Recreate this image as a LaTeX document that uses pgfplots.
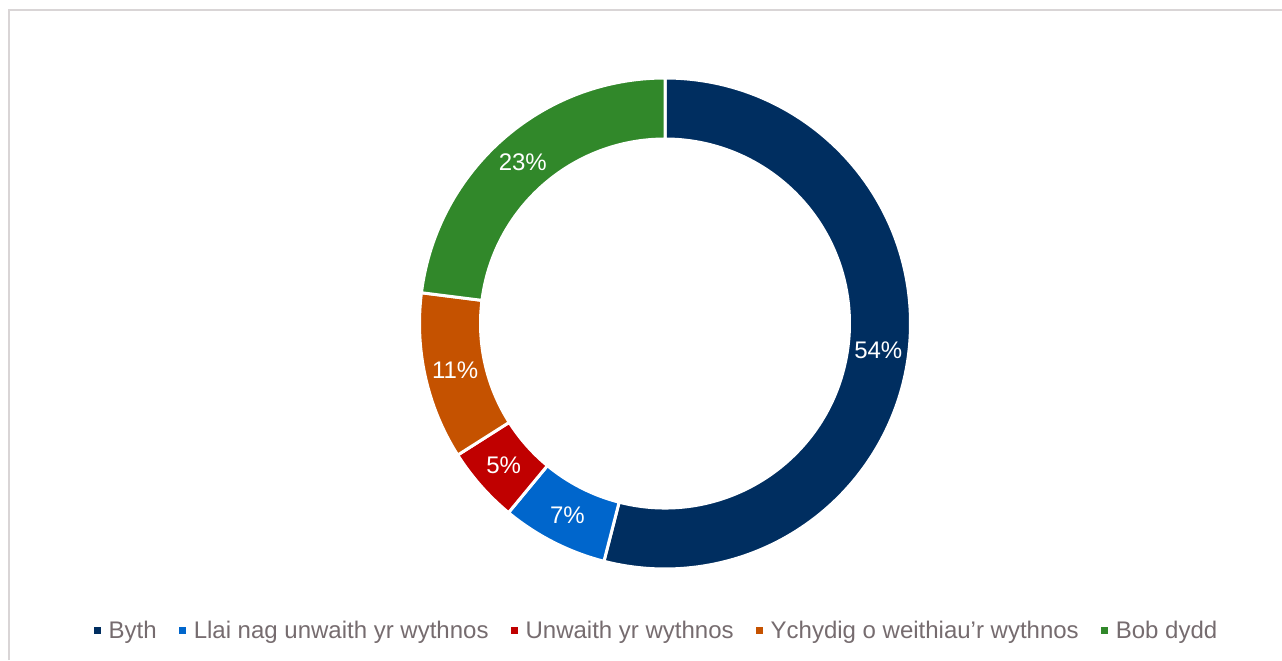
\documentclass[border=0pt]{standalone}
\usepackage{pgfplots}
\usepackage{pgfplotstable}
\usepackage{fontspec}
\setmainfont{Liberation Sans}
\pgfplotsset{compat=1.18}

\definecolor{cByth}{RGB}{0,46,96}
\definecolor{cLlai}{RGB}{0,102,204}
\definecolor{cUnwaith}{RGB}{192,0,0}
\definecolor{cYchydig}{RGB}{197,82,0}
\definecolor{cBob}{RGB}{49,136,42}
\definecolor{legtext}{RGB}{118,108,111}
\definecolor{framecol}{RGB}{217,213,214}

% share of answers, in %
\pgfplotstableread{
value
54
7
5
11
23
}\donutdata

\begin{document}
\begin{tikzpicture}
\useasboundingbox[fill=white] (0pt,0pt) rectangle (641pt,330pt);
\draw[framecol, line width=1pt] (4.25pt,0pt) |- (641pt,324.75pt);

\begin{axis}[
    at={(332.5pt,168.25pt)}, anchor=center,
    scale only axis, width=244pt, height=244pt,
    xmin=-1, xmax=1, ymin=-1, ymax=1,
    hide axis,
    legend columns=5,
    legend style={at={(0.4846,-0.130)}, anchor=center, draw=none, fill=none,
        font=\fontsize{12}{14}\selectfont,
        text=legtext,
        /tikz/every even column/.append style={column sep=9pt},
        inner sep=0pt},
]
\addlegendimage{legend image code/.code={\path[draw=none,fill=none] (0pt,0pt) rectangle (5.5pt,0pt);\fill[cByth,draw=none] (0pt,-1.75pt) rectangle (3.5pt,1.75pt);}}
\addlegendentry{Byth}
\addlegendimage{legend image code/.code={\path[draw=none,fill=none] (0pt,0pt) rectangle (5.5pt,0pt);\fill[cLlai,draw=none] (0pt,-1.75pt) rectangle (3.5pt,1.75pt);}}
\addlegendentry{Llai nag unwaith yr wythnos}
\addlegendimage{legend image code/.code={\path[draw=none,fill=none] (0pt,0pt) rectangle (5.5pt,0pt);\fill[cUnwaith,draw=none] (0pt,-1.75pt) rectangle (3.5pt,1.75pt);}}
\addlegendentry{Unwaith yr wythnos}
\addlegendimage{legend image code/.code={\path[draw=none,fill=none] (0pt,0pt) rectangle (5.5pt,0pt);\fill[cYchydig,draw=none] (0pt,-1.75pt) rectangle (3.5pt,1.75pt);}}
\addlegendentry{Ychydig o weithiau’r wythnos}
\addlegendimage{legend image code/.code={\path[draw=none,fill=none] (0pt,0pt) rectangle (5.5pt,0pt);\fill[cBob,draw=none] (0pt,-1.75pt) rectangle (3.5pt,1.75pt);}}
\addlegendentry{Bob dydd}

\pgfplotsextra{
  \gdef\cum{0}
  \foreach \i/\c in {0/cByth,1/cLlai,2/cUnwaith,3/cYchydig,4/cBob}{
    \pgfplotstablegetelem{\i}{value}\of\donutdata
    \pgfmathsetmacro\v{\pgfplotsretval}
    \pgfmathsetmacro\aone{90-3.6*\cum}
    \pgfmathsetmacro\atwo{90-3.6*(\cum+\v)}
    \pgfmathsetmacro\amid{(\aone+\atwo)/2}
    \begin{scope}[shift={(axis cs:0,0)}]
    \fill[\c, draw=white, line width=1.5pt]
      (\aone:122.75pt) arc[start angle=\aone, end angle=\atwo, radius=122.75pt]
      -- (\atwo:92.25pt) arc[start angle=\atwo, end angle=\aone, radius=92.25pt] -- cycle;
    \node[white, font=\fontsize{12}{14}\selectfont] at (\amid:107.5pt)
      {\pgfmathprintnumber[fixed,precision=0,assume math mode=true]{\v}\%};
    \end{scope}
    \pgfmathsetmacro\newcum{\cum+\v}
    \xdef\cum{\newcum}
  }
}
\end{axis}
\end{tikzpicture}
\end{document}
